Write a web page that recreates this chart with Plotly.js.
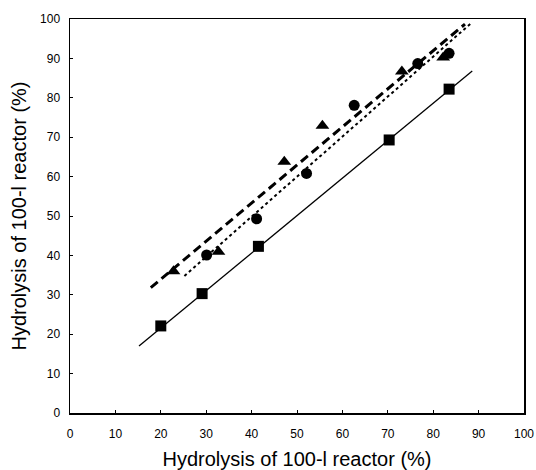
<!DOCTYPE html>
<html>
<head>
<meta charset="utf-8">
<script src="https://cdn.plot.ly/plotly-3.0.1.min.js"></script>
<style>html,body{margin:0;padding:0;background:#fff}#chart{width:536px;height:470px}</style>
</head>
<body>
<div id="chart"></div>
<script>
// Data
const squareX = [20.0, 29.1, 41.5, 70.3, 83.5];
const squareY = [22.1, 30.3, 42.3, 69.3, 82.2];
const circleX = [30.1, 41.1, 52.1, 62.6, 76.6, 83.5];
const circleY = [40.1, 49.3, 60.8, 78.1, 88.7, 91.3];
const triangleX = [22.8, 32.7, 47.2, 55.6, 73.1, 82.2];
const triangleY = [36.0, 40.9, 63.8, 72.9, 86.7, 90.2];
// Trend line end points
const solidLineX = [15.2, 88.6];
const solidLineY = [17.0, 86.8];
const dashedLineX = [17.8, 87.0];
const dashedLineY = [31.8, 98.7];
const dottedLineX = [25.2, 88.5];
const dottedLineY = [34.8, 99.1];
const tickVals = [0, 10, 20, 30, 40, 50, 60, 70, 80, 90, 100];
const axisTitle = 'Hydrolysis of 100-l reactor (%)';

const traces = [
  {x: solidLineX, y: solidLineY, mode: 'lines', line: {color: '#000', width: 1.3, dash: 'solid'}, hoverinfo: 'skip'},
  {x: dashedLineX, y: dashedLineY, mode: 'lines', line: {color: '#000', width: 3, dash: '9px,5px'}, hoverinfo: 'skip'},
  {x: dottedLineX, y: dottedLineY, mode: 'lines', line: {color: '#000', width: 2, dash: 'dot'}, hoverinfo: 'skip'},
  {x: squareX, y: squareY, mode: 'markers', marker: {symbol: 'square', size: 11, color: '#000'}},
  {x: circleX, y: circleY, mode: 'markers', marker: {symbol: 'circle', size: 11, color: '#000'}},
  {x: triangleX, y: triangleY, mode: 'markers', marker: {symbol: 'triangle-up', size: 12, color: '#000'}}
];

const axisCommon = {
  range: [0, 100],
  tickvals: tickVals,
  ticktext: tickVals.map(String),
  showgrid: false,
  zeroline: false,
  showline: true,
  linecolor: '#000',
  linewidth: 1.5,
  mirror: true,
  ticks: 'inside',
  ticklen: 3,
  tickwidth: 1,
  tickcolor: '#000',
  tickfont: {family: 'Liberation Sans, Arial, sans-serif', size: 12, color: '#000'},
  fixedrange: true
};

const layout = {
  width: 536,
  height: 470,
  margin: {l: 70, r: 12, t: 19, b: 57},
  paper_bgcolor: '#fff',
  plot_bgcolor: '#fff',
  showlegend: false,
  font: {family: 'Liberation Sans, Arial, sans-serif', color: '#000'},
  xaxis: Object.assign({}, axisCommon, {
    ticklabelstandoff: 9,
    title: {text: axisTitle, font: {size: 20, color: '#000'}, standoff: 14}
  }),
  yaxis: Object.assign({}, axisCommon, {
    ticklabelstandoff: 6,
    title: {text: axisTitle, font: {size: 20, color: '#000'}, standoff: 8}
  })
};

Plotly.newPlot('chart', traces, layout, {staticPlot: true, displayModeBar: false});
</script>
</body>
</html>
